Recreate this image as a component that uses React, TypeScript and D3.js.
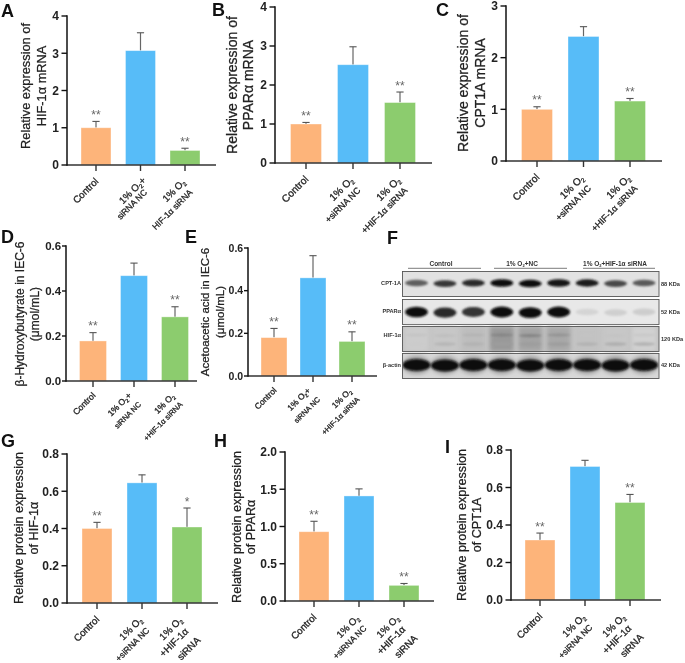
import React from "react";
import * as d3 from "d3";

const FONT = "'Liberation Sans', Arial, sans-serif";
const ORANGE = "#FDB47A";
const BLUE = "#57BCF8";
const GREEN = "#8CCC6E";
const barColors = [ORANGE, BLUE, GREEN];

// ---------- data ----------
const aMeans = [1.0, 3.07, 0.39];
const aTops = [1.17, 3.55, 0.45];
const aStars = ["**", "", "**"];
const bMeans = [1.0, 2.52, 1.55];
const bTops = [1.04, 2.98, 1.82];
const bStars = ["**", "", "**"];
const cMeans = [1.0, 2.41, 1.16];
const cTops = [1.05, 2.6, 1.21];
const cStars = ["**", "", "**"];
const dMeans = [0.178, 0.468, 0.285];
const dTops = [0.215, 0.524, 0.33];
const dStars = ["**", "", "**"];
const eMeans = [0.18, 0.46, 0.162];
const eTops = [0.223, 0.564, 0.207];
const eStars = ["**", "", "**"];
const gMeans = [0.4, 0.645, 0.408];
const gTops = [0.433, 0.688, 0.51];
const gStars = ["**", "", "*"];
const hMeans = [0.93, 1.41, 0.21];
const hTops = [1.07, 1.505, 0.235];
const hStars = ["**", "", "**"];
const iMeans = [0.32, 0.712, 0.52];
const iTops = [0.357, 0.745, 0.563];
const iStars = ["**", "", "**"];

const ticks4 = [0, 1, 2, 3, 4];
const ticks3 = [0, 1, 2, 3];
const ticks06 = [0, 0.2, 0.4, 0.6];
const ticks08 = [0, 0.2, 0.4, 0.6, 0.8];
const ticks2 = [0, 0.5, 1, 1.5, 2];

const catsA = [["Control"], ["1% O|+", "siRNA NC"], ["1% O|", "HIF-1α siRNA"]];
const catsD = [["Control"], ["1% O|+", "siRNA NC"], ["1% O|", "+HIF-1α siRNA"]];
const catsB = [["Control"], ["1% O|", "+siRNA NC"], ["1% O|", "+HIF-1α siRNA"]];
const catsG = [["Control"], ["1% O|", "+siRNA NC"], ["1% O|", "+HIF-1α", "siRNA"]];

// blot: relative band strength per lane
const laneLabels = ["Control", "1% O|+NC", "1% O|+HIF-1α siRNA"];
const cptBands = [0.6, 0.78, 0.85, 1.0, 0.97, 0.95, 0.9, 0.7, 0.62];
const pparBands = [0.97, 0.85, 0.8, 1.0, 1.0, 1.0, 0.04, 0.06, 0.07];
const hifBands = [0.12, 0.15, 0.2, 0.42, 0.42, 0.35, 0.12, 0.12, 0.1];
const hifLowerBands = [0.08, 0.18, 0.2, 0.3, 0.3, 0.3, 0.2, 0.22, 0.2];
const actinBands = [1.0, 1.0, 1.0, 1.0, 1.0, 1.0, 1.0, 1.0, 1.0];
const hifLaneShade = [0.8, 0.78, 0.74, 0.6, 0.64, 0.66, 0.76, 0.78, 0.82];
const blotNames = ["CPT-1A", "PPARα", "HIF-1α", "β-actin"];
const blotSizes = ["88 KDa", "52 KDa", "120 KDa", "42 KDa"];

type P = {
  letter: string; lx: number; ly: number;
  means: number[]; tops: number[]; stars: string[]; cats: string[][];
  ticks: number[]; fmt: string;
  ax: number; y0: number; yTop: number; right: number; c0: number; c2: number; bw: number;
  title: string[]; tx: number[]; ty: number; fs: number; labelFs: number; compact?: boolean; tickFs?: number;
};

const panels: P[] = [
  { letter: "A", lx: 1, ly: 17, means: aMeans, tops: aTops, stars: aStars, cats: catsA, ticks: ticks4, fmt: "d", ax: 67, y0: 165, yTop: 16, right: 216, c0: 96, c2: 185, bw: 30, title: ["Relative expression of", "HIF-1α mRNA"], tx: [25, 41], ty: 86, fs: 12.8, labelFs: 9.7 },
  { letter: "B", lx: 212, ly: 16, means: bMeans, tops: bTops, stars: bStars, cats: catsB, ticks: ticks4, fmt: "d", ax: 275, y0: 163, yTop: 7, right: 432, c0: 306, c2: 400, bw: 31, title: ["Relative expression of", "PPARα mRNA"], tx: [232, 248], ty: 85, fs: 14, labelFs: 10.2 },
  { letter: "C", lx: 436, ly: 16, means: cMeans, tops: cTops, stars: cStars, cats: catsB, ticks: ticks3, fmt: "d", ax: 506, y0: 161, yTop: 6, right: 662, c0: 537, c2: 630, bw: 31, title: ["Relative expression of", "CPT1A mRNA"], tx: [463, 480], ty: 83, fs: 14, labelFs: 10.2 },
  { letter: "D", lx: 1, ly: 243, means: dMeans, tops: dTops, stars: dStars, cats: catsD, ticks: ticks06, fmt: ".1f", ax: 66, y0: 381, yTop: 246, right: 197, c0: 93, c2: 175, bw: 27, title: ["β-Hydroxybutyrate in IEC-6", "(μmol/mL)"], tx: [20, 35], ty: 314, fs: 12, labelFs: 8.6, compact: true, tickFs: 11.5 },
  { letter: "E", lx: 185, ly: 243, means: eMeans, tops: eTops, stars: eStars, cats: catsD, ticks: ticks06, fmt: ".1f", ax: 248, y0: 376, yTop: 248, right: 377, c0: 274, c2: 352, bw: 26, title: ["Acetoacetic acid in IEC-6", "(μmol/mL)"], tx: [205, 220], ty: 312, fs: 11.5, labelFs: 8.4, compact: true, tickFs: 10.5 },
  { letter: "G", lx: 1, ly: 447, means: gMeans, tops: gTops, stars: gStars, cats: catsG, ticks: ticks08, fmt: ".1f", ax: 67, y0: 603, yTop: 454, right: 218, c0: 97, c2: 187, bw: 30, title: ["Relative protein expression", "of HIF-1α"], tx: [18, 33], ty: 528, fs: 12.6, labelFs: 9.8 },
  { letter: "H", lx: 214, ly: 447, means: hMeans, tops: hTops, stars: hStars, cats: catsG, ticks: ticks2, fmt: ".1f", ax: 285, y0: 601, yTop: 452, right: 434, c0: 314, c2: 404, bw: 30, title: ["Relative protein expression", "of PPARα"], tx: [236, 250], ty: 527, fs: 12.6, labelFs: 9.7 },
  { letter: "I", lx: 445, ly: 453, means: iMeans, tops: iTops, stars: iStars, cats: catsG, ticks: ticks08, fmt: ".1f", ax: 511, y0: 600, yTop: 450, right: 661, c0: 540, c2: 630, bw: 30, title: ["Relative protein expression", "of  CPT1A"], tx: [461, 476], ty: 525, fs: 12.6, labelFs: 9.8 },
];

// renders "1% O|+x": the bar stands for a subscript 2
function sub(line: string, fs: number) {
  const parts = line.split("|");
  if (parts.length === 1) return line;
  return (
    <>
      {parts[0]}
      <tspan fontSize={fs * 0.62} dy={fs * 0.2}>2</tspan>
      <tspan dy={-fs * 0.2}>{parts[1] || "\u200b"}</tspan>
    </>
  );
}

// where each rotated line ends, relative to its tick
function lineOffsets(lines: string[], compact?: boolean): number[][] {
  if (lines.length === 1) return compact ? [[3, 15]] : [[3, 17]];
  if (lines.length === 3) return [[-4, 18], [2, 29], [14, 38]];
  if (lines[0].endsWith("+")) return compact ? [[-2, 15], [7.5, 24]] : [[6, 16], [7, 28]];
  return compact ? [[0, 16], [8, 24]] : [[1, 18], [8, 28]];
}

function Panel({ p }: { p: P }) {
  const domain = d3.extent(p.ticks) as [number, number];
  const y = d3.scaleLinear().domain(domain).range([p.y0, p.yTop]);
  const x = d3.scalePoint<number>().domain([0, 1, 2]).range([p.c0, p.c2]);
  const f = d3.format(p.fmt);
  const cap = 3.6;
  const tickLen = p.compact ? 4 : 5.5;
  const tickGap = p.compact ? 4.8 : 8;
  return (
    <g fontFamily={FONT}>
      <text x={p.lx} y={p.ly} fontSize={18} fontWeight={700} fill="#111">{p.letter}</text>
      {p.title.map((t, i) => (
        <text key={i} transform={`translate(${p.tx[i] + p.fs * 0.36},${p.ty}) rotate(-90)`} textAnchor="middle" fontSize={p.fs} fill="#222" stroke="#222" strokeWidth={0.25}>{t}</text>
      ))}
      {p.means.map((m, i) => {
        const offs = lineOffsets(p.cats[i], p.compact);
        return (
          <g key={i}>
            <line x1={x(i)} x2={x(i)} y1={y(m)} y2={y(p.tops[i])} stroke="#666" strokeWidth={1.2} />
            <line x1={x(i)! - cap} x2={x(i)! + cap} y1={y(p.tops[i])} y2={y(p.tops[i])} stroke="#555" strokeWidth={1.1} />
            <rect x={x(i)! - p.bw / 2} y={y(m)} width={p.bw} height={p.y0 - y(m)} fill={barColors[i]} stroke="#fff" strokeOpacity={0.45} strokeWidth={0.8} />
            {p.stars[i] && (
              <text x={x(i)} y={y(p.tops[i]) - 2.5} textAnchor="middle" fontSize={12} fill="#666">{p.stars[i]}</text>
            )}
            <line x1={x(i)} x2={x(i)} y1={p.y0} y2={p.y0 + 6} stroke="#333" strokeWidth={1.4} />
            {p.cats[i].map((ln, k) => {
              const lineFs = ln.length >= 8 ? p.labelFs * 0.88 : p.labelFs;
              return (
                <text key={k} transform={`translate(${x(i)! + offs[k][0]},${p.y0 + offs[k][1]}) rotate(-45)`} textAnchor="end" fontSize={lineFs} fill="#222" stroke="#222" strokeWidth={0.3}>{sub(ln, lineFs)}</text>
              );
            })}
          </g>
        );
      })}
      <line x1={p.ax} x2={p.right} y1={p.y0} y2={p.y0} stroke="#333" strokeWidth={1.5} />
      <line x1={p.ax} x2={p.ax} y1={p.yTop - 0.7} y2={p.y0 + 0.7} stroke="#111" strokeWidth={1.5} />
      {p.ticks.map((t) => (
        <g key={t}>
          <line x1={p.ax - tickLen} x2={p.ax} y1={y(t)} y2={y(t)} stroke="#111" strokeWidth={1.4} />
          <text x={p.ax - tickGap} y={y(t) + (p.tickFs ?? 12) * 0.36} textAnchor="end" fontSize={p.tickFs ?? 12} fontWeight={700} fill="#222">{f(t)}</text>
        </g>
      ))}
    </g>
  );
}

function Blot() {
  const left = 402.5, right = 659;
  const rows = [
    { y: 271.5, h: 25, band: 283, bh: 3.8, vals: cptBands, bg: "#e2e2e2" },
    { y: 299.5, h: 25, band: 312, bh: 5.4, vals: pparBands, bg: "#e8e8e8" },
    { y: 326.5, h: 25, band: 335, bh: 2, vals: hifBands, bg: "#c4c4c4" },
    { y: 353.5, h: 25, band: 365, bh: 6, vals: actinBands, bg: "#d8d8d8" },
  ];
  const lane = d3.scalePoint<number>().domain(d3.range(9)).range([416.5, 644]);
  const gray = d3.scaleLinear<string>().domain([0, 1]).range(["#dcdcdc", "#0a0a0a"]);
  const shade = (v: number) => d3.interpolateRgb("#000", "#fff")(v);
  const tops = [
    { c: 441, a: 408, b: 481 },
    { c: 522, a: 494, b: 567 },
    { c: 615, a: 583, b: 655 },
  ];
  return (
    <g fontFamily={FONT}>
      <defs>
        <filter id="b1" x="-30%" y="-80%" width="160%" height="260%"><feGaussianBlur stdDeviation="1.1" /></filter>
        <filter id="b2" x="-30%" y="-30%" width="160%" height="160%"><feGaussianBlur stdDeviation="2" /></filter>
        <clipPath id="blotClip"><rect x={left} y={270} width={right - left} height={110} /></clipPath>
      </defs>
      <text x={387} y={244} fontSize={18} fontWeight={700} fill="#111">F</text>
      {tops.map((t, i) => (
        <g key={i}>
          <text x={t.c} y={266} textAnchor="middle" fontSize={6.5} fontWeight={700} fill="#333">{sub(laneLabels[i], 6.5)}</text>
          <line x1={t.a} x2={t.b} y1={268.3} y2={268.3} stroke="#444" strokeWidth={0.7} />
        </g>
      ))}
      {rows.map((r, ri) => (
        <g key={ri}>
          <rect x={left} y={r.y} width={right - left} height={r.h} fill={r.bg} />
          <g clipPath="url(#blotClip)">
            {ri === 2 && lane.domain().map((l) => (
              <rect key={l} x={lane(l)! - 12} y={r.y} width={24} height={r.h} fill={shade(hifLaneShade[l])} filter="url(#b2)" />
            ))}
            {ri === 2 && hifLowerBands.map((v, l) => (
              <ellipse key={l} cx={lane(l)} cy={344} rx={11} ry={1.8} fill={gray(v)} filter="url(#b1)" />
            ))}
            {ri === 3 && lane.domain().map((l) => (
              <ellipse key={l} cx={lane(l)} cy={r.band} rx={14} ry={9} fill="#9a9a9a" filter="url(#b2)" />
            ))}
            {r.vals.map((v, l) => (
              <ellipse key={l} cx={lane(l)} cy={r.band + (l % 3 === 1 ? 0.6 : 0)} rx={ri === 3 ? 14 : 11.5} ry={r.bh * (0.6 + 0.4 * v)} fill={gray(v)} filter="url(#b1)" />
            ))}
          </g>
          <rect x={left} y={r.y} width={right - left} height={r.h} fill="none" stroke="#555" strokeWidth={0.9} />
          <text x={401} y={r.y + (ri === 2 ? 10.5 : 13)} textAnchor="end" fontSize={5.6} fontWeight={700} fill="#333">{blotNames[ri]}</text>
          <text x={661} y={r.y + (ri === 3 ? 13 : 14)} fontSize={5.6} fontWeight={700} fill="#333">{blotSizes[ri]}</text>
        </g>
      ))}
    </g>
  );
}

export default function App() {
  return (
    <svg width={685} height={663} viewBox="0 0 685 663" style={{ position: "absolute", left: 0, top: 0, background: "#fff", filter: "blur(0.35px)" }}>
      {panels.map((p) => <Panel key={p.letter} p={p} />)}
      <Blot />
    </svg>
  );
}
